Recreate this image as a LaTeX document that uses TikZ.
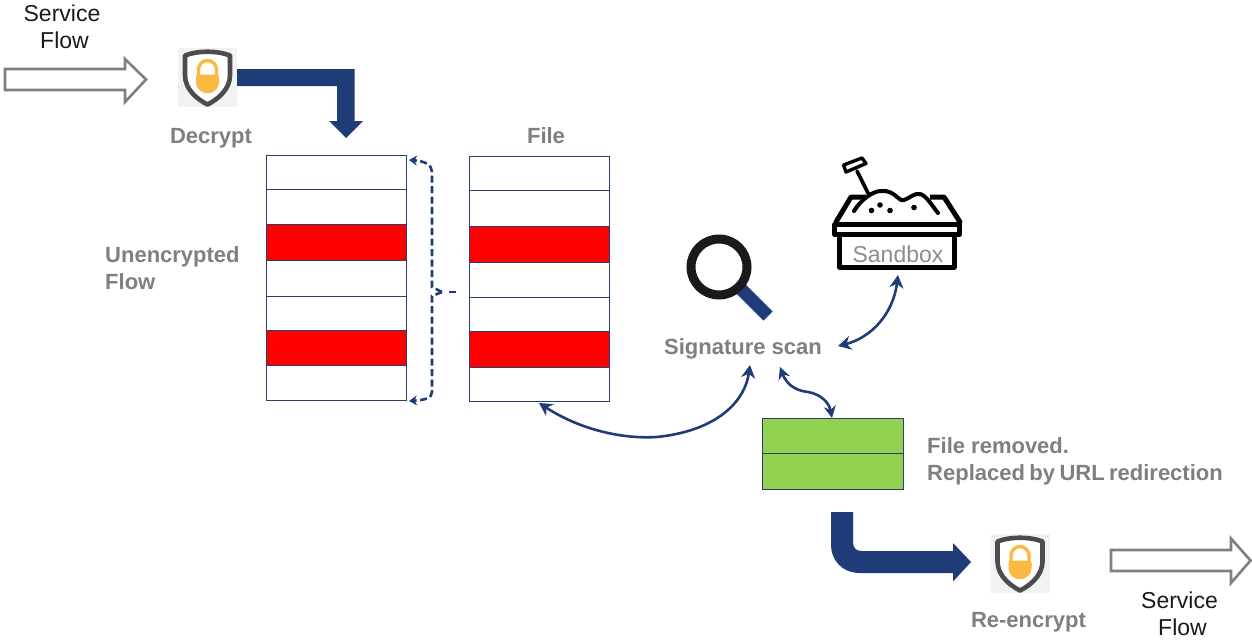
\documentclass[tikz,border=0pt]{standalone}
\usepackage{fontspec}
\setmainfont{Liberation Sans}
\usetikzlibrary{arrows.meta,positioning}
\definecolor{navy}{HTML}{1F3B78}
\definecolor{edgeblue}{HTML}{2A3F6E}
\definecolor{lab}{HTML}{7F7F7F}
\definecolor{hollow}{HTML}{7F7F7F}
\definecolor{gold}{HTML}{FBB941}
\definecolor{ink}{HTML}{1A1A1C}
\tikzset{
  cell/.style={draw=edgeblue,line width=1pt,fill=white,minimum width=140pt,inner sep=0pt,outer sep=0pt},
  redcell/.style={cell,fill=red},
  greencell/.style={cell,fill={rgb,255:red,146;green,208;blue,80},minimum width=141pt,minimum height=35.5pt},
  blab/.style={font=\fontsize{22}{27}\selectfont\bfseries,text=lab,inner sep=0pt},
  rlab/.style={font=\fontsize{23}{27}\selectfont,text=ink,inner sep=0pt,align=center},
  link/.style={draw=navy,line width=2.6pt,{Stealth[length=13pt,width=14pt]}-{Stealth[length=13pt,width=14pt]}},
  hollowarrow/.style={draw=hollow,line width=2.6pt,fill=white,miter limit=10},
  bigarrow/.style={fill=navy,draw=none},
  brace/.style={draw=navy,line width=2.6pt,dash pattern=on 7pt off 3.5pt},
  shieldicon/.pic={
    \fill[black!5] (-29.5,-29.5) rectangle (29.5,29.5);
    \fill[white,draw=black!70,line width=4.6pt,line join=round]
      (-22.5,-22) .. controls (-10,-27) and (10,-27) .. (22.5,-22)
      -- (22.5,-2) .. controls (22.5,12) and (10,22) .. (0,27)
      .. controls (-10,22) and (-22.5,12) .. (-22.5,-2) -- cycle;
    \draw[gold,line width=3.4pt] (-9,-2) -- (-9,-8) arc[start angle=180,end angle=360,radius=9] -- (9,-2);
    \fill[gold,rounded corners=2pt] (-11.5,-3) -- (11.5,-3) -- (11.5,7) .. controls (9,13) and (4,15.5) .. (0,15.5) .. controls (-4,15.5) and (-9,13) .. (-11.5,7) -- cycle;
  }
}
\begin{document}
\begin{tikzpicture}[x=1pt,y=-1pt]
\useasboundingbox (0,0) rectangle (1252,643);
% left stack
\node[cell,minimum height=34pt] (l1) at (336.5,172.5) {};
\node[cell,minimum height=35pt] (l2) at (336.5,207) {};
\node[redcell,minimum height=36pt] (l3) at (336.5,242.5) {};
\node[cell,minimum height=36pt] (l4) at (336.5,278.5) {};
\node[cell,minimum height=34pt] (l5) at (336.5,313.5) {};
\node[redcell,minimum height=35pt] (l6) at (336.5,348) {};
\node[cell,minimum height=35pt] (l7) at (336.5,383) {};
% right stack
\node[cell,minimum height=34pt] (f1) at (539.5,173.5) {};
\node[cell,minimum height=36pt] (f2) at (539.5,208.5) {};
\node[redcell,minimum height=36pt] (f3) at (539.5,244.5) {};
\node[cell,minimum height=35pt] (f4) at (539.5,280) {};
\node[cell,minimum height=34pt] (f5) at (539.5,314.5) {};
\node[redcell,minimum height=36pt] (f6) at (539.5,349.5) {};
\node[cell,minimum height=34pt] (f7) at (539.5,384.5) {};
% green
\node[greencell] (g1) at (833,436) {};
\node[greencell] (g2) at (833,471.5) {};
% labels
\node[rlab] (sf1) at (62,27) {Service\\\hspace*{5pt}Flow};
\node[rlab] (sf2) at (1179.5,614) {Service\\\hspace*{6pt}Flow};
\node[blab] (dec) at (211,138) {Decrypt};
\node[blab] (file) at (546,136) {File};
\node[blab,align=left,anchor=west] (unc) at (105,268) {Unencrypted\\Flow};
\node[blab] (sig) at (743,349) {Signature scan};
\node[blab,align=left,anchor=west] (rem) at (927,461) {File removed.\\{\spaceskip=4.4pt Replaced by URL redirection}};
\node[blab] (ree) at (1028.5,622) {Re-encrypt};
% hollow arrows
\draw[hollowarrow] (5,69) -- (125,69) -- (125,59) -- (146,79.5) -- (125,102) -- (125,90) -- (5,90) -- cycle;
\draw[hollowarrow] (1111,550) -- (1231,550) -- (1231,538.5) -- (1250.5,560.5) -- (1231,583) -- (1231,571) -- (1111,571) -- cycle;
% icons
\pic at (207.5,77.5) {shieldicon};
\pic at (1020,563.5) {shieldicon};
% big arrows
\fill[bigarrow] (237,69) -- (354.5,69) -- (354.5,121) -- (363,121) -- (346,138) -- (329,121) -- (337,121) -- (337,86) -- (237,86) -- cycle;
\fill[bigarrow] (831,512) -- (853,512) -- (853,542) .. controls (853,548) and (856,551) .. (862,551) -- (953,551) -- (953,543) -- (971,562) -- (953,581.5) -- (953,573) -- (860,573) .. controls (842,573) and (831,560) .. (831,545) -- cycle;
% magnifier
\coordinate (magc) at (719,267);
\draw[navy,line width=13pt] (740,288) -- (768,316);
\draw[ink,line width=9pt,fill=white] (magc) circle[radius=28];
% sandbox
\node[inner sep=0pt,font=\fontsize{23}{27}\selectfont,text=black!45] (sb) at (898,254) {Sandbox};
\begin{scope}[draw=black,line width=5pt,line join=round,line cap=round]
\draw (839.5,238) -- (839.5,267) -- (954,267) -- (954,238);
\draw[line width=4.6pt] (834.5,224.5) rectangle (959.5,234.5);
\draw (836,222) -- (851,197) -- (944,197) -- (960,222);
\draw[line width=3.6pt] (857,171) -- (869,195);
\draw[line width=3.4pt] (843.5,165) -- (862,158) -- (866,163.5) -- (846,172) -- cycle;
\fill[white] (856,199.5) rectangle (936,210);
\fill[white] (866,194) rectangle (930,200);
\draw[line width=4pt] (854,211) .. controls (860,201) and (872,191) .. (881,191) .. controls (888,190) and (894,194) .. (897,197) .. controls (899,199) and (902,201) .. (904,200) .. controls (910,198) and (914,193) .. (920,194) .. controls (926,195) and (933,207) .. (938,213);
\end{scope}
\fill (871.5,210.5) circle[radius=2.8];
\fill (880,205) circle[radius=2.8];
\fill (890,210.5) circle[radius=2.8];
\fill (914,207.5) circle[radius=2.8];
% connectors
\coordinate (brtop) at (409,160);
\coordinate (brbot) at (409,401);
\coordinate (brmid) at (442,292);
\coordinate (brend) at (456,292);
\draw[brace,-{Stealth[length=8pt,width=10pt]}] (brmid) -- ++(-10,-5) -- (432,172) .. controls (432,165) and (425,161) .. (brtop);
\draw[brace,-{Stealth[length=8pt,width=10pt]}] (brmid) -- ++(-10,4) -- (432,392) .. controls (432,398) and (425,400) .. (brbot);
\draw[brace] (brend) -- (447,292);
\coordinate (a1) at (539,403);
\coordinate (a2) at (750,365);
\draw[link] (a1) .. controls (590,436) and (640,440) .. (665,436) .. controls (720,428) and (745,400) .. (a2);
\coordinate (b1) at (898,275);
\coordinate (b2) at (838,346);
\draw[link] (b1) .. controls (893,315) and (870,338) .. (b2);
\coordinate (c1) at (780,367);
\coordinate (c2) at (832,418);
\draw[link,{Stealth[length=12pt,width=12pt]}-{Stealth[length=12pt,width=12pt]}] (c1) .. controls (788,388) and (800,391) .. (808,392) .. controls (820,394) and (829,402) .. (c2);
\end{tikzpicture}
\end{document}
